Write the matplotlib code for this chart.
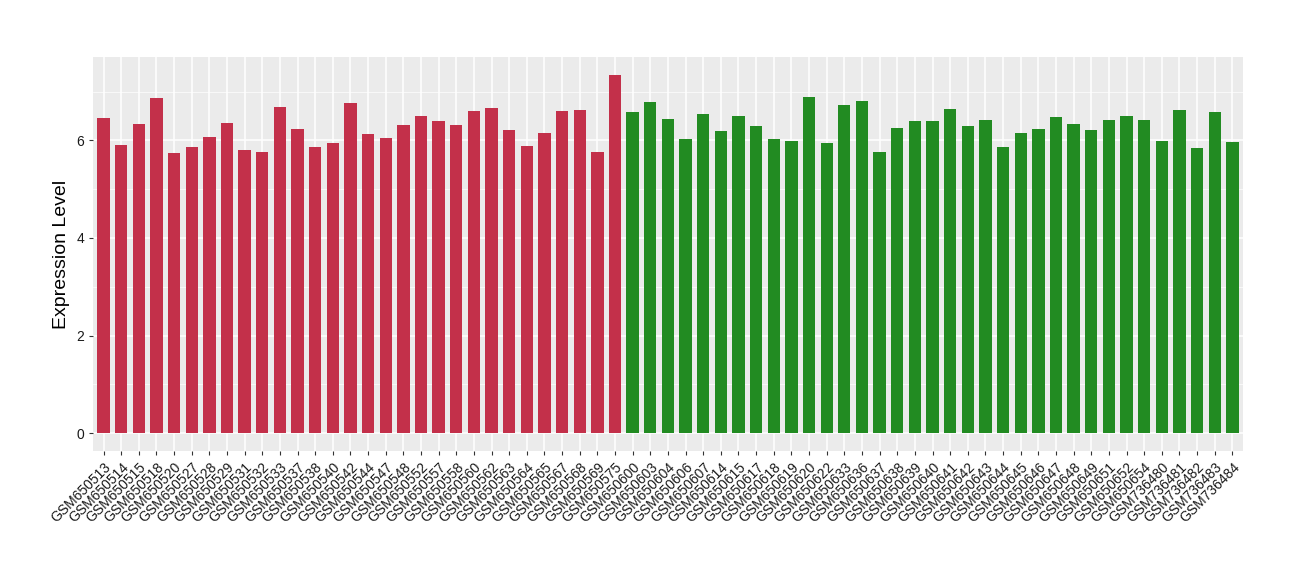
import matplotlib
matplotlib.use('Agg')
import matplotlib.pyplot as plt
import numpy as np
from matplotlib.ticker import MultipleLocator

plt.rcParams['font.family'] = ['Liberation Sans', 'DejaVu Sans']

# samples, two groups
group1 = ['GSM650513', 'GSM650514', 'GSM650515', 'GSM650518', 'GSM650520', 'GSM650527',
          'GSM650528', 'GSM650529', 'GSM650531', 'GSM650532', 'GSM650533', 'GSM650537',
          'GSM650538', 'GSM650540', 'GSM650542', 'GSM650544', 'GSM650547', 'GSM650548',
          'GSM650552', 'GSM650557', 'GSM650558', 'GSM650560', 'GSM650562', 'GSM650563',
          'GSM650564', 'GSM650565', 'GSM650567', 'GSM650568', 'GSM650569', 'GSM650575']
values1 = [6.45, 5.90, 6.34, 6.87, 5.73, 5.86, 6.06, 6.36, 5.81, 5.77,
           6.68, 6.23, 5.86, 5.94, 6.76, 6.12, 6.04, 6.31, 6.49, 6.39,
           6.31, 6.60, 6.66, 6.21, 5.88, 6.14, 6.60, 6.62, 5.77, 7.34]

group2 = ['GSM650600', 'GSM650603', 'GSM650604', 'GSM650606', 'GSM650607', 'GSM650614',
          'GSM650615', 'GSM650617', 'GSM650618', 'GSM650619', 'GSM650620', 'GSM650622',
          'GSM650633', 'GSM650636', 'GSM650637', 'GSM650638', 'GSM650639', 'GSM650640',
          'GSM650641', 'GSM650642', 'GSM650643', 'GSM650644', 'GSM650645', 'GSM650646',
          'GSM650647', 'GSM650648', 'GSM650649', 'GSM650651', 'GSM650652', 'GSM650654',
          'GSM736480', 'GSM736481', 'GSM736482', 'GSM736483', 'GSM736484']
values2 = [6.58, 6.78, 6.43, 6.02, 6.54, 6.19, 6.49, 6.29, 6.02, 5.98,
           6.89, 5.94, 6.72, 6.80, 5.77, 6.25, 6.39, 6.39, 6.64, 6.29,
           6.41, 5.86, 6.14, 6.23, 6.47, 6.33, 6.21, 6.41, 6.49, 6.41,
           5.98, 6.62, 5.84, 6.58, 5.96]

red = '#C3304A'
green = '#228B22'

labels = group1 + group2
vals = values1 + values2
colors = [red] * len(group1) + [green] * len(group2)
x = np.arange(len(labels))

fig = plt.figure(figsize=(13, 5.8), dpi=100)
ax = fig.add_axes([0.0715, 0.2224, 0.8846, 0.6793])
ax.set_facecolor('#EBEBEB')

ax.bar(x, vals, width=0.7, color=colors, zorder=3)

# ggplot-like expansion
ymax = max(vals)
ax.set_ylim(-0.05 * ymax, ymax * 1.05)
ax.set_xlim(-0.6, len(labels) - 0.4)

ax.yaxis.set_major_locator(MultipleLocator(2))
ax.yaxis.set_minor_locator(MultipleLocator(1))
ax.grid(which='major', axis='both', color='white', linewidth=1.1, zorder=0)
ax.grid(which='minor', axis='y', color='white', linewidth=0.5, zorder=0)
ax.tick_params(which='minor', length=0)
ax.tick_params(which='major', length=3, color='#333333', labelsize=10, labelcolor='#1a1a1a')

for s in ax.spines.values():
    s.set_visible(False)

ax.set_xticks(x)
ax.set_xticklabels(labels, rotation=45, ha='right', rotation_mode='anchor', fontsize=10)
ax.set_ylabel('Expression Level', fontsize=14)

fig.savefig('out.png', dpi=100)
